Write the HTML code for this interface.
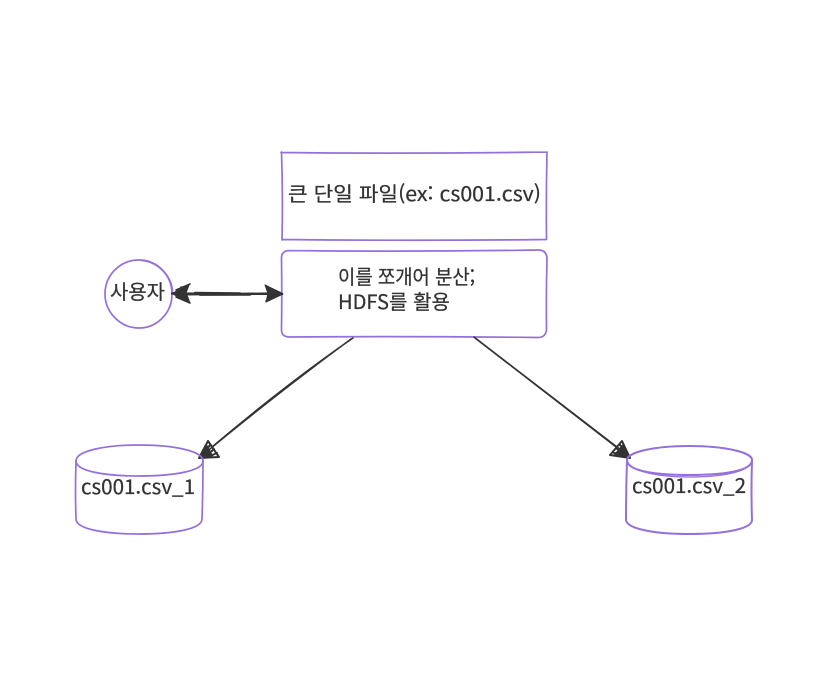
<!DOCTYPE html>
<html lang="ko">
<head>
<meta charset="utf-8">
<title>HDFS diagram</title>
<style>
html,body{margin:0;padding:0;background:#fff;}
svg{display:block;}
text{font-family:"Noto Sans CJK KR","Liberation Sans",sans-serif;font-size:20px;fill:#333;stroke:#333;stroke-width:.25;}
.n{fill:none;stroke:#9370DB;stroke-width:1.7;stroke-linecap:round;stroke-linejoin:round;}
.e{fill:none;stroke:#333;stroke-width:1.5;stroke-linecap:round;stroke-linejoin:round;}
.h{fill:#333;stroke:#333;stroke-width:1;stroke-linejoin:round;}
</style>
</head>
<body>
<svg width="828" height="686" viewBox="0 0 828 686" xmlns="http://www.w3.org/2000/svg">
<rect width="828" height="686" fill="#fff"/>

<!-- top box -->
<path class="n" d="M281 152.500 Q410 154 547 152 M547 152 Q546 195 546.500 239 M546.500 239.500 Q410 241 282 239.500 M282 240 Q283 195 281.500 152"/>
<text x="288" y="201" textLength="253" lengthAdjust="spacingAndGlyphs">큰 단일 파일(ex: cs001.csv)</text>

<!-- rounded box -->
<path class="n" d="M289 250.500 Q410 252 538 250 Q547 250 547 259 Q546 294 546.500 329 Q546 337.500 538 337.500 Q410 336 290 337 Q281 337 281.500 329 Q282 294 281.500 259 Q281 251 289 250.500"/>
<text x="338" y="284" textLength="137" lengthAdjust="spacingAndGlyphs">이를 쪼개어 분산;</text>
<text x="338" y="309" textLength="112" lengthAdjust="spacingAndGlyphs">HDFS를 활용</text>

<!-- circle -->
<path class="n" d="M139 260 C157 260 172 275 172 294 C172 313 157 328 139 328 C120 328 105 312 105 294 C105 275 120 260 139 260"/>
<path class="n" d="M142 260.500 C159 262 172 277 172.500 292"/>
<text x="110" y="299" textLength="55" lengthAdjust="spacingAndGlyphs">사용자</text>

<!-- double arrow -->
<path class="e" style="stroke-width:2.200" d="M172 293.500 L282 294 M176 294.500 L270 293.500 M195 292.800 L240 293.400 M200 294.800 L250 294.600"/>
<path class="h" d="M172 293.500 L189 285 L186 293 L190 303 Z"/>
<path class="e" style="stroke-width:1.600" d="M176 290 L190 284 M176 297 L190 303 M181 287 L188 298"/>
<path class="h" d="M283 294 L265 285 L268 293.500 L266 302 Z"/>
<path class="e" style="stroke-width:1.600" d="M266 286 L282 293.500 L266 301"/>

<!-- left connector -->
<path class="e" d="M353 338 Q285 385 212 447 M351 339 Q275 395 199 458"/>
<path class="e" style="stroke-width:2" d="M199 458 L208 441 L219 457 Z M202 456 L210 445 M205 457 L214 449 M208 457 L217 453"/>
<path class="h" style="stroke-width:.5;fill:#333" d="M199 458 L207 445 L213 456 Z"/>

<!-- right connector -->
<path class="e" d="M475 338 L620 450 M474 337 L630 457"/>
<path class="e" style="stroke-width:2" d="M630 458 L610 455 L622 441 Z M627 456 L614 453 M626 453 L617 449 M625 450 L620 445"/>
<path class="h" style="stroke-width:.5;fill:#333" d="M630 458 L613 456 L623 444 Z"/>

<!-- left cylinder -->
<path class="n" d="M76 461 C76 451 104 445 139 445 C174 445 203 451 203 461 C203 471 174 476 139 476 C104 476 76 471 76 461"/>
<path class="n" d="M76 461 Q75 490 76 519 C76 529 104 534 139 534 C174 534 202 529 202 519 Q203 490 203 461"/>
<text x="81" y="494" textLength="114" lengthAdjust="spacingAndGlyphs">cs001.csv_1</text>

<!-- right cylinder -->
<path class="n" style="stroke-width:2" d="M627 460 C627 452 655 446 689 446 C724 446 752 452 752 460 C752 471 724 475 689 475 C655 475 627 471 627 460"/>
<path class="n" style="stroke-width:1.300" d="M628 463 C634 472 660 477 690 477 C722 477 746 472 751 463"/>
<path class="n" style="stroke-width:2" d="M627 460 Q626 490 626 520 C627 529 655 534 689 534 C724 534 752 529 752 520 Q751 490 752 460"/>
<text x="632" y="493" textLength="114" lengthAdjust="spacingAndGlyphs">cs001.csv_2</text>
</svg>
</body>
</html>
